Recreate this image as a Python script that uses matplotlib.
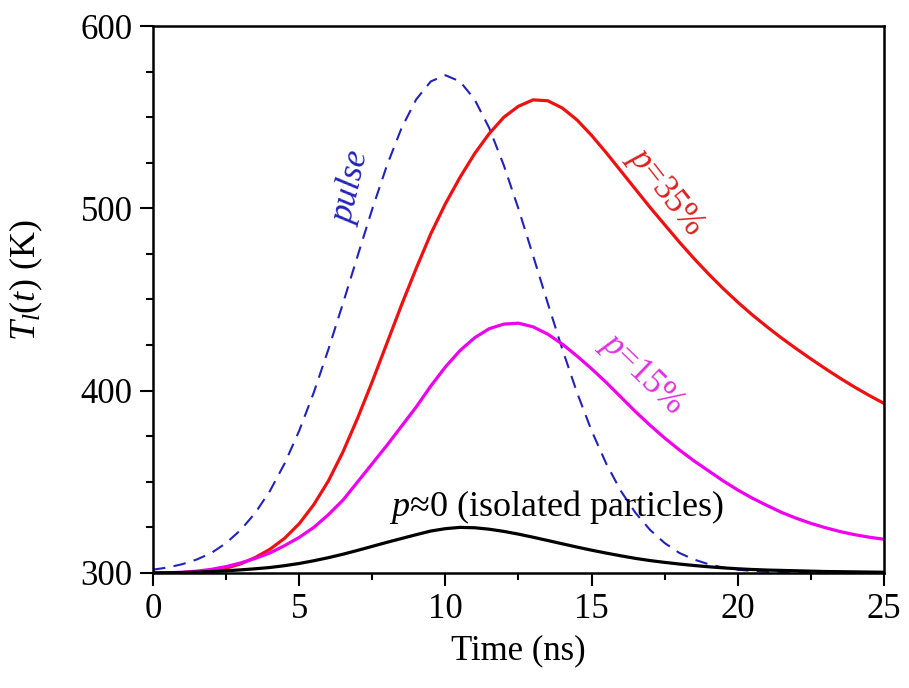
import numpy as np
import matplotlib
matplotlib.use('Agg')
import matplotlib.pyplot as plt

plt.rcParams['font.family'] = ['Liberation Serif', 'DejaVu Serif']
plt.rcParams['mathtext.fontset'] = 'custom'
plt.rcParams['mathtext.rm'] = 'Liberation Serif'
plt.rcParams['mathtext.it'] = 'Liberation Serif:italic'

# time axis (ns), every 0.5 ns
t = np.arange(0, 25.01, 0.5)

# laser pulse shape (scaled onto the K axis)
pulse = [301.8, 303.0, 304.8, 307.4, 311.0, 316.4, 323.6, 333.0, 345.0, 360.0,
         378.0, 399.0, 422.7, 448.0, 474.0, 499.7, 523.5, 544.0, 559.7, 569.6,
         573.0, 569.6, 559.7, 544.0, 523.5, 499.7, 474.0, 448.0, 422.7, 399.0,
         378.0, 360.0, 345.0, 333.0, 323.6, 316.4, 311.0, 307.4, 304.8, 303.0,
         301.8, 301.1, 300.6, 300.4, 300.2, 300.1, 300.1, 300.0, 300.0, 300.0, 300.0]

# p = 35 %
p35 = [300.0, 300.1, 300.25, 300.6, 301.3, 302.6, 305.0, 308.5, 313.0, 319.0,
       327.0, 337.5, 350.5, 366.5, 385.0, 405.0, 426.0, 447.0, 467.0, 486.0,
       502.5, 517.0, 530.0, 541.0, 550.0, 556.0, 559.5, 559.0, 555.0, 548.5,
       540.0, 530.5, 520.5, 510.5, 500.5, 491.0, 481.5, 472.5, 464.0, 456.0,
       448.5, 441.5, 435.0, 428.8, 423.0, 417.4, 412.0, 406.8, 401.9, 397.3, 393.0]

# p = 15 %
p15 = [300.0, 300.1, 300.4, 301.0, 302.0, 303.5, 305.5, 308.0, 311.0, 315.0,
       319.5, 325.0, 332.0, 340.0, 350.0, 360.0, 370.0, 380.5, 391.0, 402.5,
       413.0, 422.0, 429.0, 434.0, 436.5, 437.0, 435.0, 431.0, 425.5, 419.0,
       412.0, 404.5, 396.5, 388.5, 381.0, 374.0, 367.5, 361.5, 356.0, 350.5,
       345.5, 341.0, 337.0, 333.2, 330.0, 327.2, 324.8, 322.7, 321.0, 319.6, 318.5]

# p ~ 0, isolated particles
p0 = [300.0, 300.1, 300.2, 300.5, 300.8, 301.2, 301.7, 302.3, 303.0, 304.0,
      305.2, 306.7, 308.4, 310.3, 312.4, 314.6, 316.8, 318.9, 321.0, 323.0,
      324.3, 325.0, 324.8, 324.0, 322.8, 321.3, 319.6, 317.8, 316.0, 314.2,
      312.5, 310.9, 309.4, 308.0, 306.8, 305.8, 304.9, 304.1, 303.4, 302.8,
      302.3, 301.9, 301.6, 301.4, 301.2, 301.0, 300.8, 300.7, 300.6, 300.5, 300.4]

fig = plt.figure(figsize=(9.09, 6.88), dpi=100)
ax = fig.add_subplot(111)
fig.subplots_adjust(left=0.1683, right=0.9725, top=0.9622, bottom=0.1672)

ax.plot(t, pulse, color='#2222bb', lw=1.5, dashes=(6, 4))
ax.plot(t, p35, color='#ee1111', lw=2.3)
ax.plot(t, p15, color='#ee00ee', lw=2.3)
ax.plot(t, p0, color='black', lw=2.3)

ax.set_xlim(0, 25)
ax.set_ylim(300, 600)
ax.set_xticks([0, 5, 10, 15, 20, 25])
ax.set_xticks(np.arange(2.5, 25, 5), minor=True)
ax.set_yticks([300, 400, 500, 600])
ax.set_yticks([325, 350, 375, 425, 450, 475, 525, 550, 575], minor=True)

for s in ax.spines.values():
    s.set_linewidth(1.8)
ax.tick_params(which='both', direction='out', top=False, right=False, width=1.5, labelsize=25)
ax.tick_params(which='major', length=9.5, pad=5)
ax.tick_params(which='minor', length=5)

ax.set_xlabel('Time (ns)', fontsize=25, labelpad=6)
ax.set_ylabel(r'$T_l(t)$ (K)', fontsize=26)
ax.yaxis.set_label_coords(-0.148, 0.535)

ax.text(6.8, 511, 'pulse', color='#2222bb', fontsize=25, style='italic',
        rotation=77, ha='center', va='center')
ax.text(17.5, 509, r'$p$=35%', color='#dd2020', fontsize=25,
        rotation=-52, ha='center', va='center')
ax.text(16.7, 409, r'$p$=15%', color='#e030e0', fontsize=25,
        rotation=-44, ha='center', va='center')
ax.text(13.8, 336, r'$p$≈0 (isolated particles)', color='black', fontsize=26,
        ha='center', va='center')

plt.savefig('out.png', dpi=100)
